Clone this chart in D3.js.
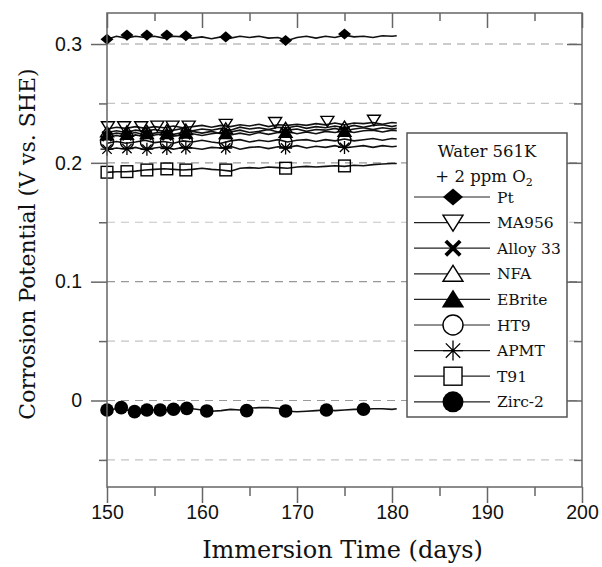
<!DOCTYPE html>
<html>
<head>
<meta charset="utf-8">
<script src="https://cdn.jsdelivr.net/npm/d3@7"></script>
<style>
  body { margin: 0; background: #fff; }
  svg { display: block; }
</style>
</head>
<body>
<svg></svg>
<script>
const width = 602
const height = 567
const plotLeft = 107
const plotRight = 582
const plotTop = 13
const plotBottom = 487

// days where the logged potential is sampled
const lineDays = [150, 151, 152, 153, 154, 155, 156, 157, 158, 159, 160, 161, 162, 163, 164, 165,
  166, 167, 168, 169, 170, 171, 172, 173, 174, 175, 176, 177, 178, 179, 180, 180.5]

const ptLine = [.304, .3065, .305, .3065, .3055, .3065, .305, .3065, .306, .305, .306, .3045, .306, .305, .3065, .3055,
  .3065, .305, .3055, .303, .3055, .3065, .305, .3065, .3055, .3075, .306, .3065, .3055, .307, .3065, .307]
const ma956Line = [.2285, .23, .229, .2305, .229, .2305, .2295, .231, .2295, .2305, .2315, .23, .2315, .2305, .232, .231,
  .2325, .2305, .232, .2315, .2325, .2315, .233, .232, .2335, .232, .2335, .233, .234, .2325, .234, .2335]
const alloy33Line = [.2215, .223, .2215, .2235, .222, .2235, .2245, .2225, .2235, .2245, .223, .2245, .2255, .2235, .225, .2235,
  .2255, .224, .2255, .2265, .2245, .226, .2245, .2265, .2255, .227, .2255, .227, .2275, .226, .2275, .227]
const nfaLine = [.2255, .227, .2255, .2275, .2265, .228, .2265, .2275, .229, .227, .2285, .2275, .229, .2275, .23, .2285,
  .2295, .228, .23, .2295, .231, .229, .2305, .2295, .231, .2295, .2315, .23, .2315, .232, .2305, .2315]
const ebriteLine = [.2235, .225, .224, .2255, .2235, .225, .226, .224, .2255, .2265, .225, .2265, .2245, .226, .2275, .2255,
  .2265, .228, .226, .2275, .2285, .2265, .228, .2275, .229, .227, .2285, .2295, .228, .2295, .2285, .229]
const ht9Line = [.2165, .218, .2165, .2175, .219, .217, .218, .2165, .2185, .2175, .219, .2175, .2165, .2185, .2195, .2175,
  .219, .218, .2195, .2175, .219, .2195, .218, .2195, .2185, .22, .2185, .2195, .2205, .219, .2205, .22]
const apmtLine = [.211, .2125, .2115, .213, .211, .2125, .2135, .2115, .213, .2125, .2115, .213, .2125, .214, .2115, .213,
  .2135, .212, .2135, .213, .2145, .2125, .214, .213, .2145, .2125, .2135, .2145, .213, .2145, .2135, .214]
const t91Line = [.192, .1925, .1925, .193, .194, .1945, .195, .1945, .194, .1945, .1955, .1945, .194, .193, .1955, .196,
  .1955, .1965, .196, .1955, .1965, .197, .1965, .197, .1975, .197, .198, .1975, .1985, .199, .1995, .1995]
const zircLine = [-.008, -.007, -.008, -.009, -.008, -.008, -.008, -.0075, -.007, -.007, -.008, -.009, -.0085, -.0075, -.008, -.0065,
  -.006, -.006, -.0065, -.009, -.0095, -.009, -.0085, -.008, -.0085, -.008, -.0075, -.0075, -.007, -.007, -.0075, -.007]

// marker days
const markDays = [150, 152.1, 154.2, 156.3, 158.3, 162.5, 168.8, 175]
const ma956MarkDays = [150.1, 151.8, 153.6, 155.3, 156.9, 158.6, 162.5, 167.7, 173.2, 178.1]
const zircMarkDays = [150, 151.5, 152.9, 154.2, 155.6, 157, 158.4, 160.5, 164.7, 168.8, 173.1, 177]

// marker values
const ptMarks = [.304, .3075, .3075, .3075, .307, .306, .303, .3085]
const ma956Marks = [.2305, .2305, .2305, .231, .231, .231, .2325, .234, .235, .236]
const alloy33Marks = [.2225, .223, .2235, .223, .224, .2245, .2255, .2265]
const nfaMarks = [.226, .2265, .227, .2275, .228, .229, .2295, .2305]
const ebriteMarks = [.2235, .224, .2245, .2245, .225, .2245, .2255, .2265]
const ht9Marks = [.2175, .2175, .2175, .2175, .218, .2175, .2175, .219]
const apmtMarks = [.2115, .212, .2115, .212, .2125, .2125, .2125, .213]
const t91Marks = [.1921, .1926, .194, .1949, .194, .194, .1955, .1974]
const zircMarks = [-.008, -.006, -.0094, -.008, -.008, -.0074, -.0066, -.0088, -.0085, -.0088, -.008, -.0074]

const seriesNames = ["Pt", "MA956", "Alloy 33", "NFA", "EBrite", "HT9", "APMT", "T91", "Zirc-2"]
const seriesShapes = ["diamond", "triDown", "cross", "triUp", "triUpFilled", "circle", "asterisk", "square", "dot"]

const xTicks = [150, 160, 170, 180, 190, 200]
const xMinor = [155, 165, 175, 185, 195]
const yTicks = [0, 0.1, 0.2, 0.3]
const yTickLabels = ["0", "0.1", "0.2", "0.3"]
const yMinor = [-0.05, 0.05, 0.15, 0.25]

const series = [
  {line: ptLine, days: markDays, marks: ptMarks},
  {line: ma956Line, days: ma956MarkDays, marks: ma956Marks},
  {line: alloy33Line, days: markDays, marks: alloy33Marks},
  {line: nfaLine, days: markDays, marks: nfaMarks},
  {line: ebriteLine, days: markDays, marks: ebriteMarks},
  {line: ht9Line, days: markDays, marks: ht9Marks},
  {line: apmtLine, days: markDays, marks: apmtMarks},
  {line: t91Line, days: markDays, marks: t91Marks},
  {line: zircLine, days: zircMarkDays, marks: zircMarks}
].map((s, i) => ({...s, name: seriesNames[i], shape: seriesShapes[i]}))

const svg = d3.select("svg")
  .attr("width", width)
  .attr("height", height)

const x = d3.scaleLinear().domain([150, 200]).range([plotLeft, plotRight])
const y = d3.scaleLinear().domain([-0.0728, 0.3261]).range([plotBottom, plotTop])

// dashed grid, darker on the labelled values
const grid = svg.append("g")
grid.selectAll("line.major").data(yTicks).join("line")
  .attr("x1", plotLeft).attr("x2", plotRight)
  .attr("y1", d => y(d)).attr("y2", d => y(d))
  .attr("stroke", "#999").attr("stroke-width", 1.2)
  .attr("stroke-dasharray", "8,6")
grid.selectAll("line.minor").data(yMinor).join("line")
  .attr("x1", plotLeft).attr("x2", plotRight)
  .attr("y1", d => y(d)).attr("y2", d => y(d))
  .attr("stroke", "#c4c4c4").attr("stroke-width", 1.2)
  .attr("stroke-dasharray", "8,6")

// marker shapes
function drawMarker(g, shape, s, hollowFill) {
  const k = "#000"
  if (shape === "diamond") {
    g.append("path").attr("d", `M0,${-s * 0.85}L${s},0L0,${s * 0.85}L${-s},0Z`).attr("fill", k)
  } else if (shape === "triDown") {
    g.append("path").attr("d", `M${-s},${-s * 0.75}L${s},${-s * 0.75}L0,${s * 0.85}Z`)
      .attr("fill", hollowFill).attr("stroke", k).attr("stroke-width", 1.4)
  } else if (shape === "triUp" || shape === "triUpFilled") {
    g.append("path").attr("d", `M${-s},${s * 0.75}L${s},${s * 0.75}L0,${-s * 0.85}Z`)
      .attr("fill", shape === "triUpFilled" ? k : hollowFill).attr("stroke", k).attr("stroke-width", 1.4)
  } else if (shape === "cross") {
    const a = s * 0.72
    g.append("path").attr("d", `M${-a},${-a}L${a},${a}M${a},${-a}L${-a},${a}`)
      .attr("stroke", k).attr("stroke-width", s * 0.38).attr("fill", "none")
  } else if (shape === "circle") {
    g.append("circle").attr("r", s).attr("fill", hollowFill).attr("stroke", k).attr("stroke-width", 1.4)
  } else if (shape === "asterisk") {
    const a = s * 0.72
    g.append("path").attr("d", `M0,${-s}L0,${s}M${-s},0L${s},0M${-a},${-a}L${a},${a}M${a},${-a}L${-a},${a}`)
      .attr("stroke", k).attr("stroke-width", 1.3).attr("fill", "none")
  } else if (shape === "square") {
    g.append("rect").attr("x", -s * 0.9).attr("y", -s * 0.9).attr("width", s * 1.8).attr("height", s * 1.8)
      .attr("fill", hollowFill).attr("stroke", k).attr("stroke-width", 1.4)
  } else if (shape === "dot") {
    g.append("circle").attr("r", s * 1.05).attr("fill", k)
  }
}

// series lines
const line = d3.line().x(d => x(d[0])).y(d => y(d[1]))
svg.append("g").selectAll("path").data(series).join("path")
  .attr("d", s => line(lineDays.map((d, i) => [d, s.line[i]])))
  .attr("fill", "none").attr("stroke", "#111").attr("stroke-width", 1.6)

// series markers
series.forEach(s => {
  s.days.forEach((d, i) => {
    const g = svg.append("g").attr("transform", `translate(${x(d)},${y(s.marks[i])})`)
    drawMarker(g, s.shape, 6.5, "none")
  })
})

// axes
const axisColor = "#666"
const tickFont = "'Liberation Sans', Arial, sans-serif"

function styleAxis(g) {
  g.selectAll("path.domain").remove()
  g.selectAll("line").attr("stroke", axisColor).attr("stroke-width", 1.5)
}

svg.append("g").attr("transform", `translate(0,${plotBottom})`)
  .call(d3.axisBottom(x).tickValues(xTicks).tickSize(16).tickPadding(2).tickFormat(d3.format("d")))
  .call(styleAxis)
  .call(g => g.selectAll("text").attr("font-family", tickFont).attr("font-size", 19.5).attr("fill", "#111"))
svg.append("g").attr("transform", `translate(0,${plotBottom})`)
  .call(d3.axisBottom(x).tickValues(xMinor).tickSize(9).tickFormat(""))
  .call(styleAxis)

svg.append("g").attr("transform", `translate(0,${plotTop})`)
  .call(d3.axisTop(x).tickValues(xTicks).tickSize(-15).tickFormat(""))
  .call(styleAxis)
svg.append("g").attr("transform", `translate(0,${plotTop})`)
  .call(d3.axisTop(x).tickValues(xMinor).tickSize(-8).tickFormat(""))
  .call(styleAxis)

svg.append("g").attr("transform", `translate(${plotLeft},0)`)
  .call(d3.axisLeft(y).tickValues(yTicks).tickSize(16).tickPadding(9).tickFormat((d, i) => yTickLabels[i]))
  .call(styleAxis)
  .call(g => g.selectAll("text").attr("font-family", tickFont).attr("font-size", 19.5).attr("fill", "#111"))
svg.append("g").attr("transform", `translate(${plotLeft},0)`)
  .call(d3.axisLeft(y).tickValues(yMinor).tickSize(8).tickFormat(""))
  .call(styleAxis)

svg.append("g").attr("transform", `translate(${plotRight},0)`)
  .call(d3.axisRight(y).tickValues(yTicks).tickSize(-15).tickFormat(""))
  .call(styleAxis)
svg.append("g").attr("transform", `translate(${plotRight},0)`)
  .call(d3.axisRight(y).tickValues(yMinor).tickSize(-8).tickFormat(""))
  .call(styleAxis)

// frame
svg.append("rect")
  .attr("x", plotLeft).attr("y", plotTop)
  .attr("width", plotRight - plotLeft).attr("height", plotBottom - plotTop)
  .attr("fill", "none").attr("stroke", axisColor).attr("stroke-width", 1.5)

// axis titles
const serif = "'DejaVu Serif', serif"
svg.append("text")
  .attr("x", (plotLeft + plotRight) / 2 - 2).attr("y", 558)
  .attr("text-anchor", "middle")
  .attr("font-family", serif).attr("font-size", 24).attr("fill", "#111")
  .text("Immersion Time (days)")

svg.append("text")
  .attr("transform", `translate(35,244) rotate(-90)`)
  .attr("text-anchor", "middle")
  .attr("font-family", serif).attr("font-size", 22).attr("fill", "#111")
  .text("Corrosion Potential (V vs. SHE)")

// legend
const legend = svg.append("g")
legend.append("rect")
  .attr("x", 407).attr("y", 133).attr("width", 160).attr("height", 284)
  .attr("fill", "#fff").attr("stroke", "#555").attr("stroke-width", 1.5)

legend.append("text")
  .attr("x", 487).attr("y", 157).attr("text-anchor", "middle")
  .attr("font-family", serif).attr("font-size", 16.5).attr("fill", "#111")
  .text("Water 561K")
const t2 = legend.append("text")
  .attr("x", 484).attr("y", 182).attr("text-anchor", "middle")
  .attr("font-family", serif).attr("font-size", 16.5).attr("fill", "#111")
t2.append("tspan").text("+ 2 ppm O")
t2.append("tspan").attr("font-size", 11).attr("dy", 4).text("2")

series.forEach((s, i) => {
  const cy = 197 + i * 25.6
  legend.append("line")
    .attr("x1", 414).attr("x2", 490).attr("y1", cy).attr("y2", cy)
    .attr("stroke", "#222").attr("stroke-width", 1.2)
  const g = legend.append("g").attr("transform", `translate(453,${cy})`)
  drawMarker(g, s.shape, 10, "#fff")
  legend.append("text")
    .attr("x", 497).attr("y", cy + 5.5)
    .attr("font-family", serif).attr("font-size", 15.5).attr("fill", "#111")
    .text(s.name)
})
</script>
</body>
</html>
